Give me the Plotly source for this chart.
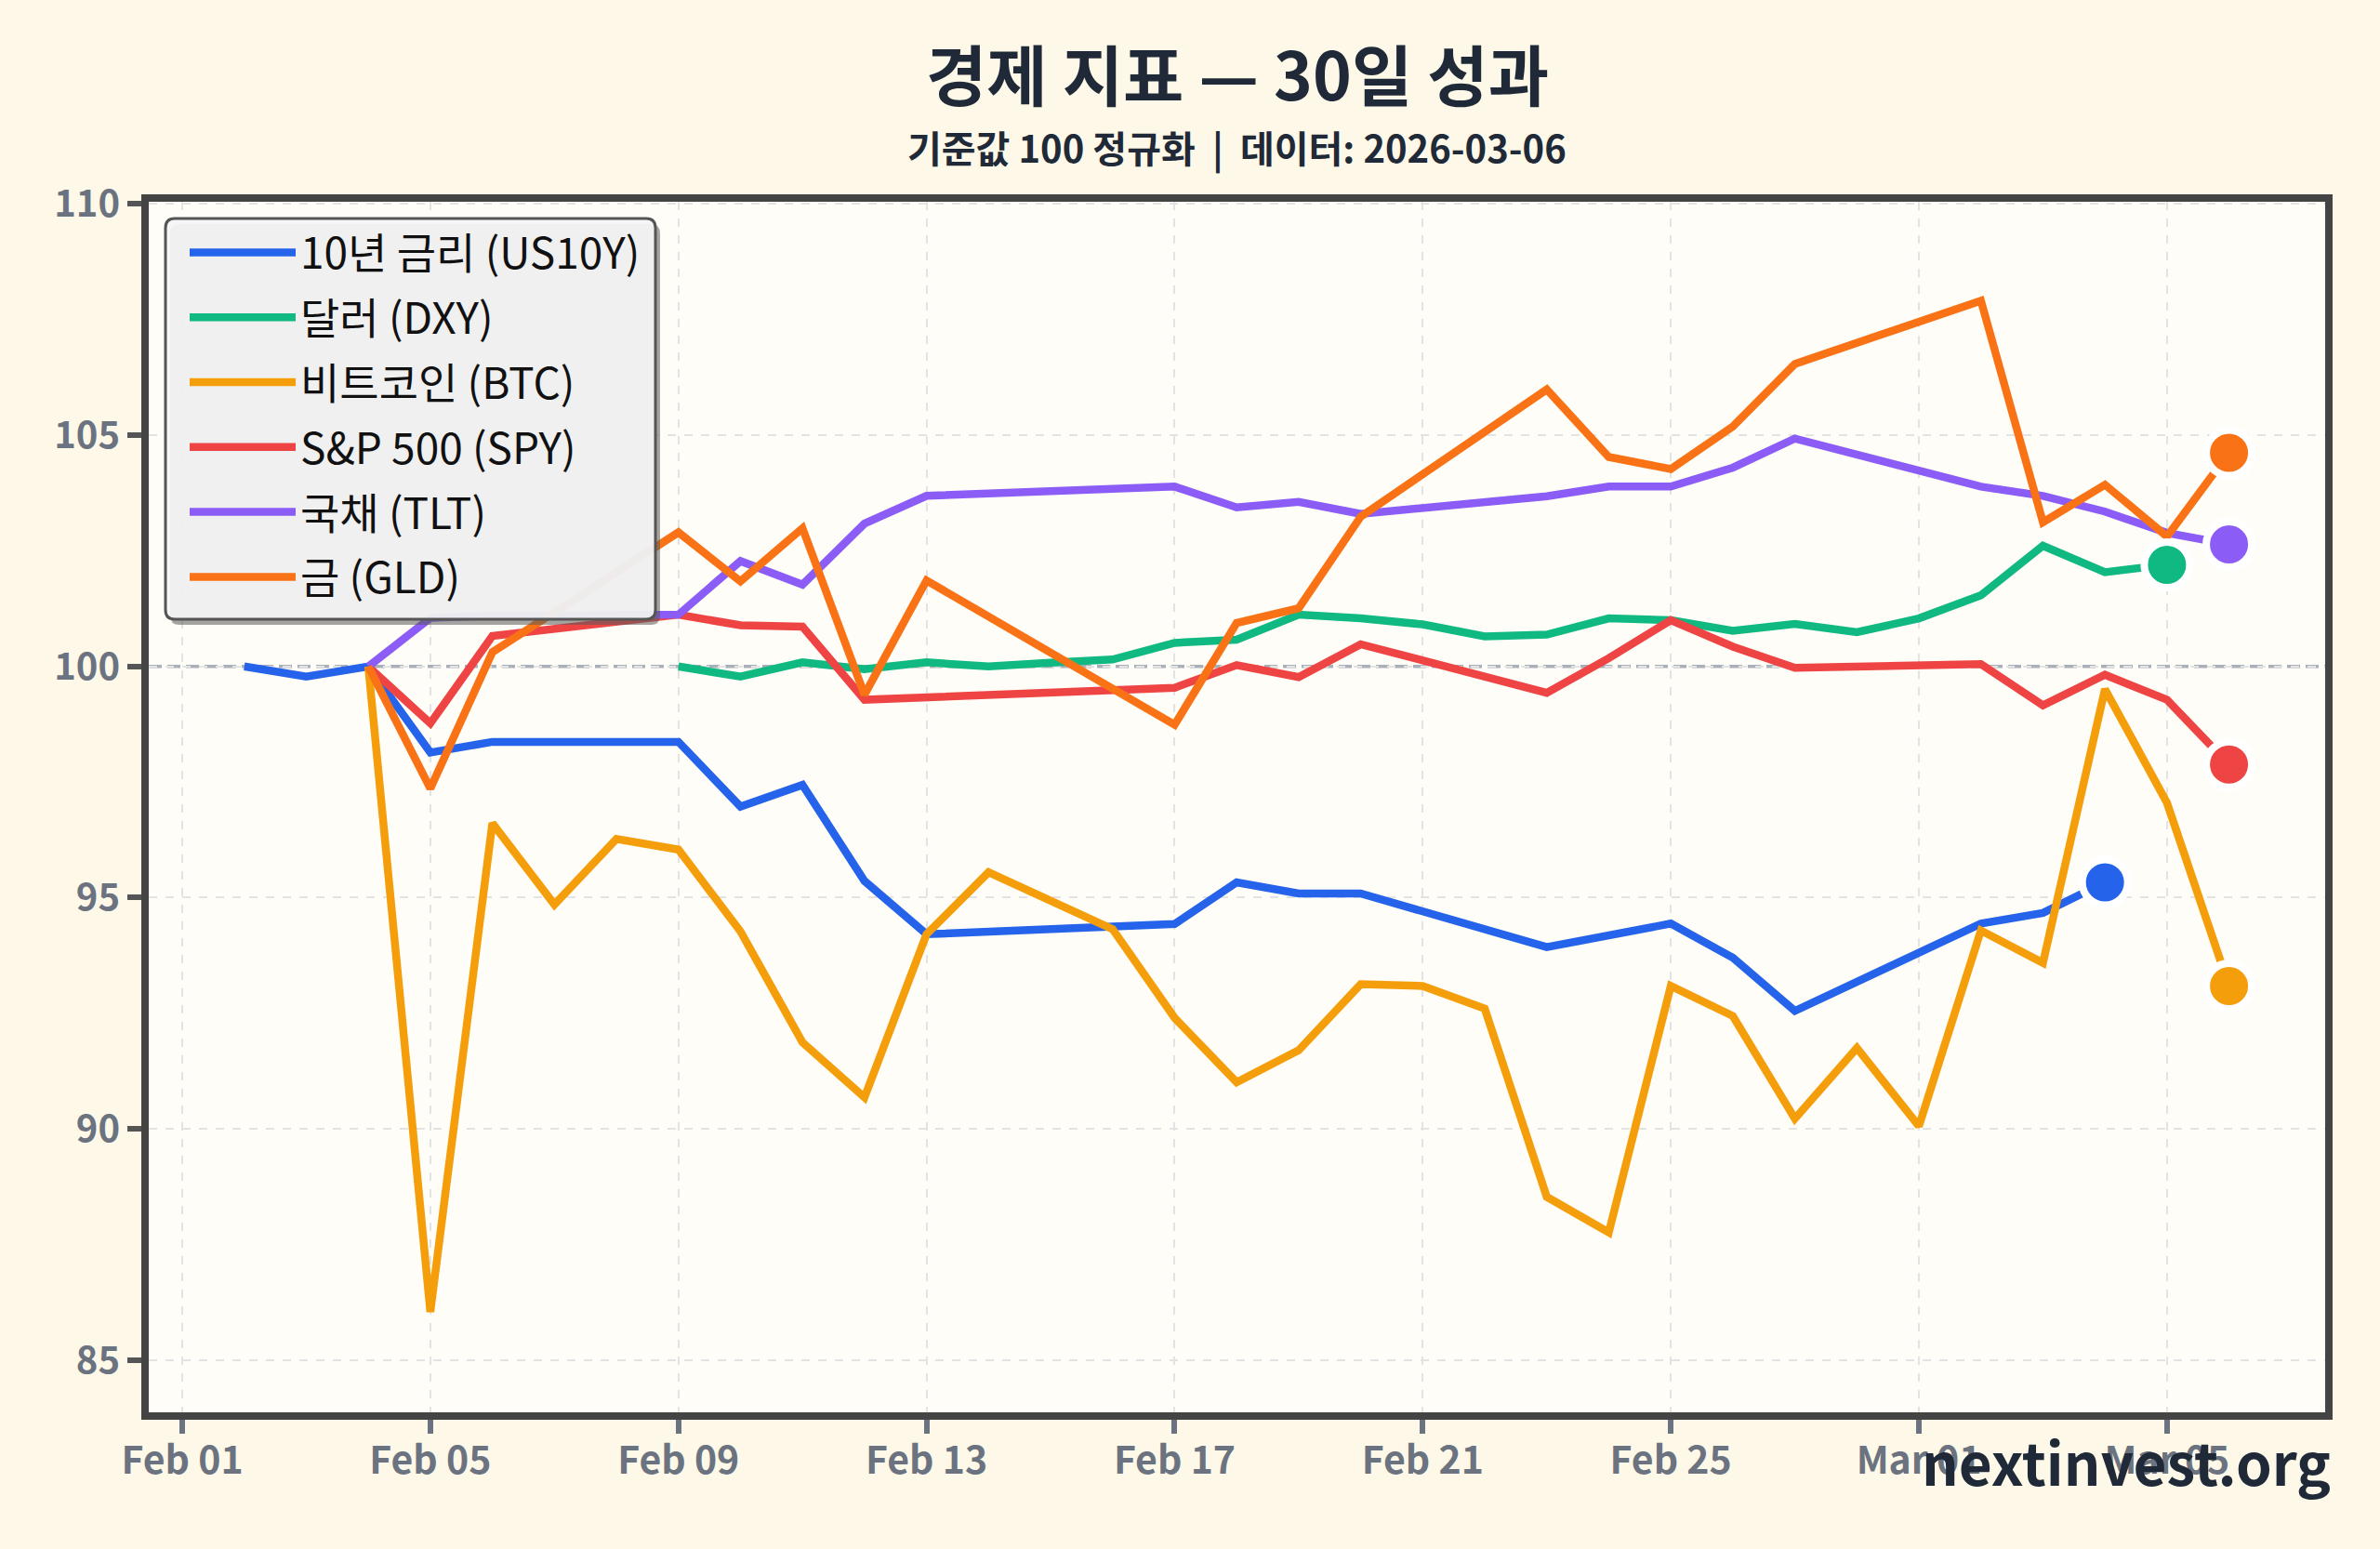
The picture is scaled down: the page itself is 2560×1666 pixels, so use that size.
import plotly.graph_objects as go

FONT = "Noto Sans CJK KR"

names = ["10년 금리 (US10Y)", "달러 (DXY)", "비트코인 (BTC)", "S&P 500 (SPY)", "국채 (TLT)", "금 (GLD)"]
colors = ["#2563eb", "#10b981", "#f59e0b", "#ef4444", "#8b5cf6", "#f97316"]

us10y_dates = ["2026-02-02", "2026-02-03", "2026-02-04", "2026-02-05", "2026-02-06", "2026-02-09",
               "2026-02-10", "2026-02-11", "2026-02-12", "2026-02-13", "2026-02-17", "2026-02-18",
               "2026-02-19", "2026-02-20", "2026-02-23", "2026-02-25", "2026-02-26", "2026-02-27",
               "2026-03-02", "2026-03-03", "2026-03-04"]
us10y_vals = [100.0, 99.78, 100.0, 98.14, 98.37, 98.37, 96.97, 97.44, 95.36, 94.21, 94.43, 95.33,
              95.09, 95.09, 93.93, 94.44, 93.70, 92.55, 94.44, 94.67, 95.33]

dxy_dates = ["2026-02-09", "2026-02-10", "2026-02-11", "2026-02-12", "2026-02-13", "2026-02-14",
             "2026-02-15", "2026-02-16", "2026-02-17", "2026-02-18", "2026-02-19", "2026-02-20",
             "2026-02-21", "2026-02-22", "2026-02-23", "2026-02-24", "2026-02-25", "2026-02-26",
             "2026-02-27", "2026-02-28", "2026-03-01", "2026-03-02", "2026-03-03", "2026-03-04",
             "2026-03-05"]
dxy_vals = [100.0, 99.78, 100.09, 99.94, 100.09, 100.0, 100.08, 100.15, 100.51, 100.58, 101.12, 101.04,
            100.91, 100.65, 100.69, 101.04, 101.0, 100.77, 100.92, 100.74, 101.04, 101.54, 102.61, 102.04,
            102.2]

btc_dates = ["2026-02-04", "2026-02-05", "2026-02-06", "2026-02-07", "2026-02-08", "2026-02-09",
             "2026-02-10", "2026-02-11", "2026-02-12", "2026-02-13", "2026-02-14", "2026-02-16",
             "2026-02-17", "2026-02-18", "2026-02-19", "2026-02-20", "2026-02-21", "2026-02-22",
             "2026-02-23", "2026-02-24", "2026-02-25", "2026-02-26", "2026-02-27", "2026-02-28",
             "2026-03-01", "2026-03-02", "2026-03-03", "2026-03-04", "2026-03-05", "2026-03-06"]
btc_vals = [100.0, 86.04, 96.61, 94.85, 96.27, 96.04, 94.27, 91.87, 90.68, 94.21, 95.55, 94.32,
            92.40, 91.01, 91.70, 93.13, 93.09, 92.60, 88.53, 87.76, 93.09, 92.44, 90.22, 91.75,
            90.06, 94.29, 93.59, 99.51, 97.05, 93.09]

spy_dates = ["2026-02-04", "2026-02-05", "2026-02-06", "2026-02-09", "2026-02-10", "2026-02-11",
             "2026-02-12", "2026-02-17", "2026-02-18", "2026-02-19", "2026-02-20", "2026-02-23",
             "2026-02-24", "2026-02-25", "2026-02-26", "2026-02-27", "2026-03-02", "2026-03-03",
             "2026-03-04", "2026-03-05", "2026-03-06"]
spy_vals = [100.0, 98.77, 100.66, 101.12, 100.89, 100.86, 99.28, 99.54, 100.03, 99.77, 100.48, 99.43,
            100.18, 101.0, 100.43, 99.97, 100.05, 99.16, 99.82, 99.28, 97.88]

tlt_dates = ["2026-02-04", "2026-02-05", "2026-02-06", "2026-02-09", "2026-02-10", "2026-02-11",
             "2026-02-12", "2026-02-13", "2026-02-17", "2026-02-18", "2026-02-19", "2026-02-20",
             "2026-02-23", "2026-02-24", "2026-02-25", "2026-02-26", "2026-02-27", "2026-03-02",
             "2026-03-03", "2026-03-04", "2026-03-05", "2026-03-06"]
tlt_vals = [100.0, 101.05, 101.10, 101.12, 102.28, 101.77, 103.09, 103.69, 103.89, 103.44, 103.56, 103.30,
            103.68, 103.89, 103.89, 104.30, 104.93, 103.89, 103.69, 103.35, 102.89, 102.64]

gld_dates = ["2026-02-04", "2026-02-05", "2026-02-06", "2026-02-09", "2026-02-10", "2026-02-11",
             "2026-02-12", "2026-02-13", "2026-02-17", "2026-02-18", "2026-02-19", "2026-02-20",
             "2026-02-23", "2026-02-24", "2026-02-25", "2026-02-26", "2026-02-27", "2026-03-02",
             "2026-03-03", "2026-03-04", "2026-03-05", "2026-03-06"]
gld_vals = [100.0, 97.36, 100.31, 102.90, 101.84, 102.99, 99.39, 101.86, 98.74, 100.94, 101.26, 103.24,
            105.99, 104.53, 104.27, 105.19, 106.54, 107.91, 103.12, 103.93, 102.81, 104.62]

series_dates = [us10y_dates, dxy_dates, btc_dates, spy_dates, tlt_dates, gld_dates]
series_vals = [us10y_vals, dxy_vals, btc_vals, spy_vals, tlt_vals, gld_vals]

title_text = "경제 지표 — 30일 성과"
subtitle_text = "기준값 100 정규화  |  데이터: 2026-03-06"
watermark_text = "nextinvest.org"
baseline_value = 100

# layout geometry (pixels)
W, H = 2560, 1666
ML, MR, MT, MB = 160, 59, 217, 147
PW, PH = W - ML - MR, H - MT - MB


def px_x(p):
    return (p - ML) / PW


def px_y(p):
    return (H - MB - p) / PH


PAPER = "#fdf8e7"
PLOT = "#fffdf7"

fig = go.Figure()

for name, color, d, v in zip(names, colors, series_dates, series_vals):
    fig.add_trace(go.Scatter(
        x=d, y=v, mode="lines", name=name, legendgroup=name,
        line=dict(color=color, width=8.5),
    ))

for name, color, d, v in zip(names, colors, series_dates, series_vals):
    fig.add_trace(go.Scatter(
        x=[d[-1]], y=[v[-1]], mode="markers", name=name, legendgroup=name, showlegend=False,
        marker=dict(color=color, size=49, line=dict(color="#ffffff", width=8)),
        hoverinfo="skip",
    ))

# legend box (rounded) + shadow
x0, x1 = px_x(178), px_x(705)
y1, y0 = px_y(235), px_y(666)
rx, ry = 10 / PW, 10 / PH


def rounded(x0, y0, x1, y1):
    return (f"M{x0+rx},{y1} L{x1-rx},{y1} Q{x1},{y1} {x1},{y1-ry} L{x1},{y0+ry} Q{x1},{y0} {x1-rx},{y0} "
            f"L{x0+rx},{y0} Q{x0},{y0} {x0},{y0+ry} L{x0},{y1-ry} Q{x0},{y1} {x0+rx},{y1} Z")


sx, sy = 5 / PW, 6 / PH
shapes = [
    dict(type="line", xref="paper", yref="y", x0=0, x1=1, y0=baseline_value, y1=baseline_value,
         line=dict(color="#aab0b9", width=3.5, dash="14px,6px"), layer="below"),
    dict(type="path", xref="paper", yref="paper", path=rounded(x0 + sx, y0 - sy, x1 + sx, y1 - sy),
         fillcolor="rgba(90,90,90,0.55)", line=dict(width=0), layer="above"),
    dict(type="path", xref="paper", yref="paper", path=rounded(x0, y0, x1, y1),
         fillcolor="rgba(245,245,247,0.93)", line=dict(color="#555555", width=3), layer="above"),
]

annotations = [
    dict(text=title_text, xref="paper", yref="paper", x=0.5, y=px_y(77), xanchor="center", yanchor="middle",
         showarrow=False, font=dict(family=FONT, size=71, color="#1f2937", weight="bold")),
    dict(text=subtitle_text, xref="paper", yref="paper", x=0.5, y=px_y(158), xanchor="center", yanchor="middle",
         showarrow=False, font=dict(family=FONT, size=40, color="#1f2937", weight="bold")),
    dict(text=watermark_text, xref="paper", yref="paper", x=px_x(2509), y=px_y(1571), xanchor="right",
         yanchor="middle", showarrow=False, font=dict(family=FONT, size=62, color="#1f2937", weight="bold")),
]

fig.update_layout(
    width=W, height=H,
    margin=dict(l=ML, r=MR, t=MT, b=MB, pad=0),
    paper_bgcolor=PAPER, plot_bgcolor=PLOT,
    font=dict(family=FONT),
    shapes=shapes, annotations=annotations,
    showlegend=True,
    legend=dict(x=px_x(199), y=px_y(235), xanchor="left", yanchor="top",
                bgcolor="rgba(0,0,0,0)", borderwidth=0, tracegroupgap=7, itemwidth=114,
                font=dict(family=FONT, size=46, color="#111111")),
    xaxis=dict(
        type="date", range=["2026-01-31 11:02", "2026-03-07 13:12"],
        tick0="2026-02-01", dtick=4 * 86400000, tickformat="%b %d",
        showgrid=True, gridcolor="#e3e3e3", gridwidth=2, griddash="dash",
        showline=True, mirror=True, linecolor="#444444", linewidth=8,
        ticks="outside", ticklen=15, tickwidth=6, tickcolor="#6b7280",
        ticklabelstandoff=-6,
        tickfont=dict(family=FONT, size=41, color="#6b7280", weight="bold"),
        zeroline=False,
    ),
    yaxis=dict(
        range=[83.87, 110.05], tick0=85, dtick=5,
        showgrid=True, gridcolor="#e3e3e3", gridwidth=2, griddash="dash",
        showline=True, mirror=True, linecolor="#444444", linewidth=8,
        ticks="outside", ticklen=15, tickwidth=6, tickcolor="#555555",
        tickfont=dict(family=FONT, size=40, color="#6b7280", weight="bold"),
        zeroline=False,
    ),
)

fig.write_html("out.html")
